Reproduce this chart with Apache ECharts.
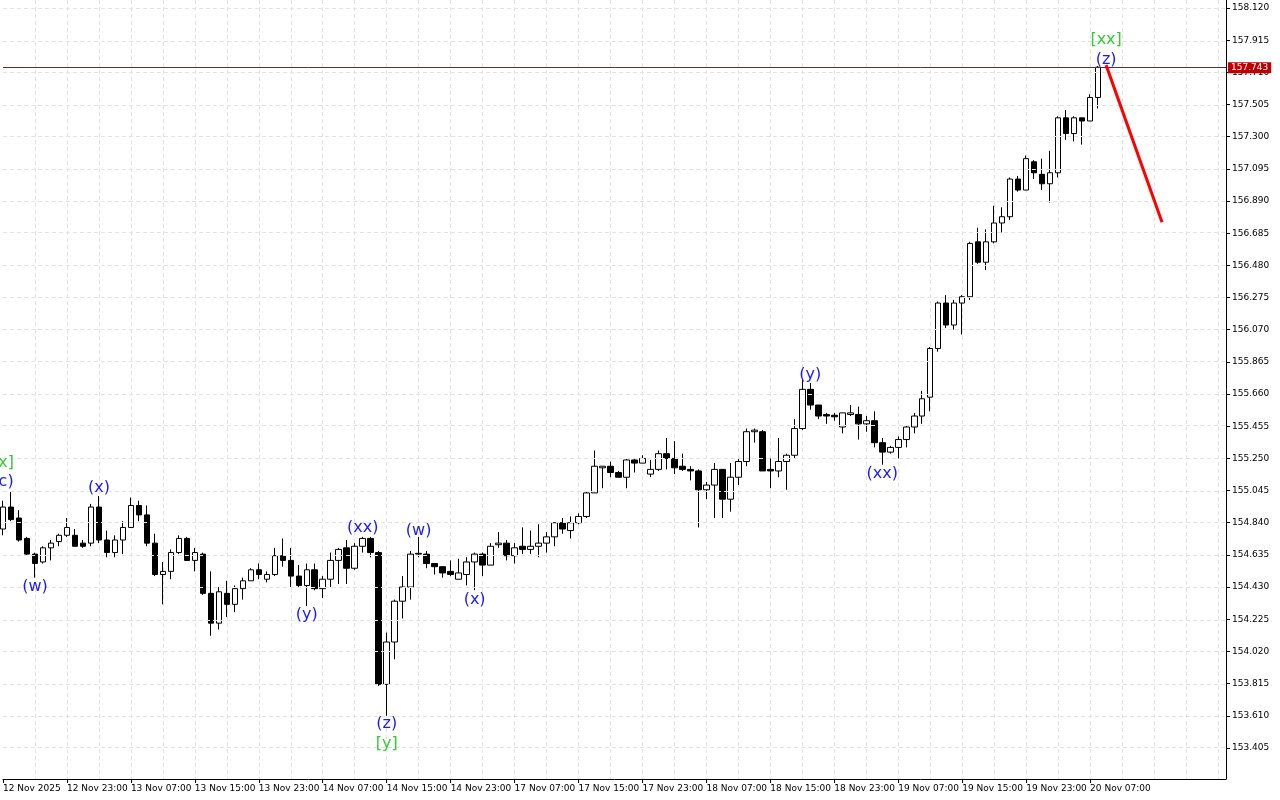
<!DOCTYPE html>
<html><head><meta charset="utf-8">
<script src="https://cdn.jsdelivr.net/npm/echarts@6/dist/echarts.min.js"></script>
<style>html,body{margin:0;background:#fff}#c{width:1280px;height:800px}</style>
</head><body><div id="c"></div>
<script>
// time tick labels, one every 8 hourly bars starting at bar 0
const timeLabels = ["12 Nov 2025","12 Nov 23:00","13 Nov 07:00","13 Nov 15:00","13 Nov 23:00","14 Nov 07:00","14 Nov 15:00","14 Nov 23:00","17 Nov 07:00","17 Nov 15:00","17 Nov 23:00","18 Nov 07:00","18 Nov 15:00","18 Nov 23:00","19 Nov 07:00","19 Nov 15:00","19 Nov 23:00","20 Nov 07:00"];
const priceTicks = [153.405,153.610,153.815,154.020,154.225,154.430,154.635,154.840,155.045,155.250,155.455,155.660,155.865,156.070,156.275,156.480,156.685,156.890,157.095,157.300,157.505,157.710,157.915,158.120];
// [open, close, low, high]
const opens  = [154.80,154.94,154.87,154.74,154.64,154.59,154.68,154.72,154.76,154.76,154.71,154.71,154.94,154.73,154.65,154.73,154.81,154.95,154.89,154.71,154.51,154.53,154.65,154.74,154.60,154.64,154.39,154.20,154.39,154.32,154.42,154.47,154.54,154.48,154.51,154.63,154.60,154.50,154.44,154.54,154.42,154.48,154.60,154.68,154.55,154.69,154.74,154.65,153.81,154.08,154.34,154.43,154.64,154.64,154.58,154.56,154.53,154.48,154.51,154.59,154.64,154.57,154.70,154.71,154.63,154.69,154.67,154.69,154.71,154.75,154.84,154.79,154.84,154.88,155.03,155.19,155.20,155.16,155.13,155.24,155.22,155.15,155.18,155.28,155.25,155.20,155.18,155.17,155.05,155.08,155.18,154.99,155.13,155.23,155.42,155.42,155.18,155.17,155.23,155.27,155.44,155.69,155.59,155.53,155.525,155.45,155.53,155.53,155.47,155.49,155.35,155.29,155.32,155.37,155.45,155.52,155.64,155.95,156.24,156.10,156.24,156.28,156.63,156.50,156.63,156.75,156.79,157.03,156.96,157.14,157.06,157.00,157.07,157.42,157.32,157.42,157.40,157.55];
const closes = [154.94,154.86,154.73,154.64,154.58,154.68,154.71,154.76,154.81,154.69,154.69,154.94,154.73,154.65,154.73,154.81,154.95,154.89,154.71,154.51,154.53,154.65,154.74,154.60,154.65,154.39,154.20,154.40,154.32,154.42,154.47,154.54,154.51,154.51,154.63,154.60,154.50,154.44,154.54,154.42,154.48,154.60,154.67,154.55,154.69,154.74,154.65,153.81,154.08,154.34,154.43,154.64,154.645,154.58,154.56,154.52,154.51,154.52,154.59,154.64,154.57,154.69,154.71,154.63,154.68,154.67,154.69,154.71,154.75,154.84,154.80,154.84,154.88,155.03,155.20,155.20,155.16,155.13,155.24,155.22,155.25,155.18,155.28,155.25,155.19,155.18,155.17,155.05,155.08,155.18,154.99,155.13,155.23,155.42,155.43,155.17,155.17,155.23,155.27,155.44,155.69,155.59,155.52,155.52,155.515,155.54,155.54,155.47,155.49,155.35,155.29,155.32,155.37,155.45,155.52,155.63,155.95,156.24,156.10,156.24,156.28,156.62,156.50,156.63,156.75,156.79,157.03,156.96,157.16,157.07,157.00,157.07,157.42,157.32,157.42,157.40,157.55,157.743];
const lows   = [154.76,154.85,154.72,154.63,154.49,154.58,154.60,154.69,154.75,154.69,154.68,154.69,154.71,154.62,154.62,154.64,154.81,154.85,154.69,154.50,154.32,154.48,154.64,154.60,154.53,154.38,154.12,154.16,154.24,154.27,154.35,154.47,154.48,154.46,154.50,154.56,154.43,154.43,154.31,154.41,154.36,154.43,154.45,154.45,154.54,154.65,154.62,153.80,153.61,153.97,154.23,154.35,154.62,154.55,154.51,154.49,154.50,154.48,154.44,154.41,154.50,154.57,154.68,154.60,154.58,154.64,154.64,154.62,154.65,154.69,154.77,154.74,154.83,154.87,155.03,155.06,155.13,155.13,155.06,155.16,155.22,155.13,155.17,155.18,155.15,155.17,155.11,154.81,154.99,154.87,154.87,154.91,155.08,155.20,155.35,155.17,155.06,155.13,155.05,155.25,155.43,155.56,155.50,155.47,155.49,155.41,155.52,155.37,155.42,155.32,155.21,155.28,155.25,155.32,155.41,155.47,155.55,155.93,156.08,156.07,156.04,156.26,156.49,156.45,156.62,156.69,156.77,156.95,156.96,157.03,156.96,156.88,157.04,157.28,157.27,157.25,157.40,157.48];
const highs  = [154.98,155.04,154.92,154.75,154.65,154.69,154.73,154.77,154.87,154.80,154.73,154.96,155.01,154.79,154.76,154.85,155.00,154.98,154.95,154.77,154.59,154.67,154.76,154.75,154.68,154.65,154.53,154.43,154.47,154.44,154.49,154.55,154.58,154.53,154.68,154.74,154.68,154.57,154.58,154.58,154.50,154.65,154.68,154.73,154.71,154.75,154.75,154.66,154.14,154.35,154.50,154.66,154.75,154.66,154.58,154.56,154.60,154.61,154.62,154.65,154.65,154.71,154.78,154.73,154.71,154.81,154.79,154.83,154.78,154.84,154.87,154.88,154.90,155.04,155.30,155.20,155.23,155.17,155.25,155.25,155.27,155.24,155.30,155.38,155.36,155.28,155.20,155.18,155.10,155.22,155.18,155.22,155.25,155.44,155.44,155.43,155.25,155.38,155.28,155.50,155.75,155.73,155.59,155.54,155.54,155.54,155.59,155.58,155.52,155.55,155.38,155.33,155.39,155.46,155.54,155.68,155.96,156.25,156.29,156.26,156.29,156.63,156.72,156.71,156.86,156.85,157.04,157.05,157.18,157.15,157.16,157.21,157.43,157.47,157.43,157.42,157.57,157.75];
const lastPrice = 157.743;
const forecast = [[138,157.756],[145,156.755]];
// wave labels: [bar, price, text, kind]
const waveLabels = [[0,155.22,"[x]","g"],[0,155.10,"(c)","b"],[4,154.43,"(w)","b"],[12,155.06,"(x)","b"],[38,154.25,"(y)","b"],[45,154.81,"(xx)","b"],[52,154.79,"(w)","b"],[48,153.56,"(z)","b"],[48,153.43,"[y]","g"],[59,154.35,"(x)","b"],[101,155.78,"(y)","b"],[110,155.15,"(xx)","b"],[138,157.79,"(z)","b"],[138,157.92,"[xx]","g"]];

const N = 154;
const cats = Array.from({length:N},(_,i)=>String(i));
const ohlc = opens.map((o,i)=>[o,closes[i],lows[i],highs[i]]);
const F = 'DejaVu Sans';
const chart = echarts.init(document.getElementById('c'));
chart.setOption({
  animation:false,
  grid:{left:2,right:54,top:0,bottom:21},
  xAxis:{type:'category',data:cats,boundaryGap:false,
    axisLine:{lineStyle:{color:'#000'}},
    axisTick:{interval:(i)=>i%8===0&&i<=136,length:4,lineStyle:{color:'#000'}},
    axisLabel:{interval:7,align:'left',fontSize:9,fontFamily:F,color:'#000',margin:5,
      formatter:(v,i)=>timeLabels[i/8]||''},
    splitLine:{show:true,interval:(i)=>i%4===0&&i>0,lineStyle:{color:'#e3e3e3',type:[4,3]}}},
  yAxis:{type:'value',position:'right',min:153.207,max:158.171,scale:true,
    axisLine:{show:true,lineStyle:{color:'#000'}},
    axisTick:{show:true,length:4,customValues:priceTicks,lineStyle:{color:'#000'}},
    axisLabel:{customValues:priceTicks,fontSize:9,fontFamily:F,color:'#000',margin:6,formatter:v=>v.toFixed(3)},
    splitLine:{show:false}},
  series:[
    {type:'candlestick',data:ohlc,barWidth:6,
      itemStyle:{color:'#fff',color0:'#000',borderColor:'#000',borderColor0:'#000',borderWidth:1},
      markLine:{symbol:'none',silent:true,animation:false,
        data:[...priceTicks.map(p=>({yAxis:p,lineStyle:{color:'#e3e3e3',type:[4,3],width:1},label:{show:false}})),
          {yAxis:lastPrice,lineStyle:{color:'#5a3030',type:'solid',width:1},
           label:{show:true,position:'end',formatter:lastPrice.toFixed(3),color:'#fff',backgroundColor:'#c00000',fontSize:9,fontFamily:F,padding:[1,3],distance:2}}]}},
    {type:'line',data:forecast,symbol:'none',lineStyle:{color:'#ff0000',width:3},z:5},
    {type:'scatter',symbolSize:1,z:6,itemStyle:{opacity:0},
      data:waveLabels.map(w=>({value:[w[0],w[1]],
      label:{show:true,formatter:w[2],position:'inside',opacity:1,fontSize:16,fontFamily:F,color:w[3]==='g'?'#33cc33':'#1a1aff'}}))}
  ]
});
</script></body></html>
